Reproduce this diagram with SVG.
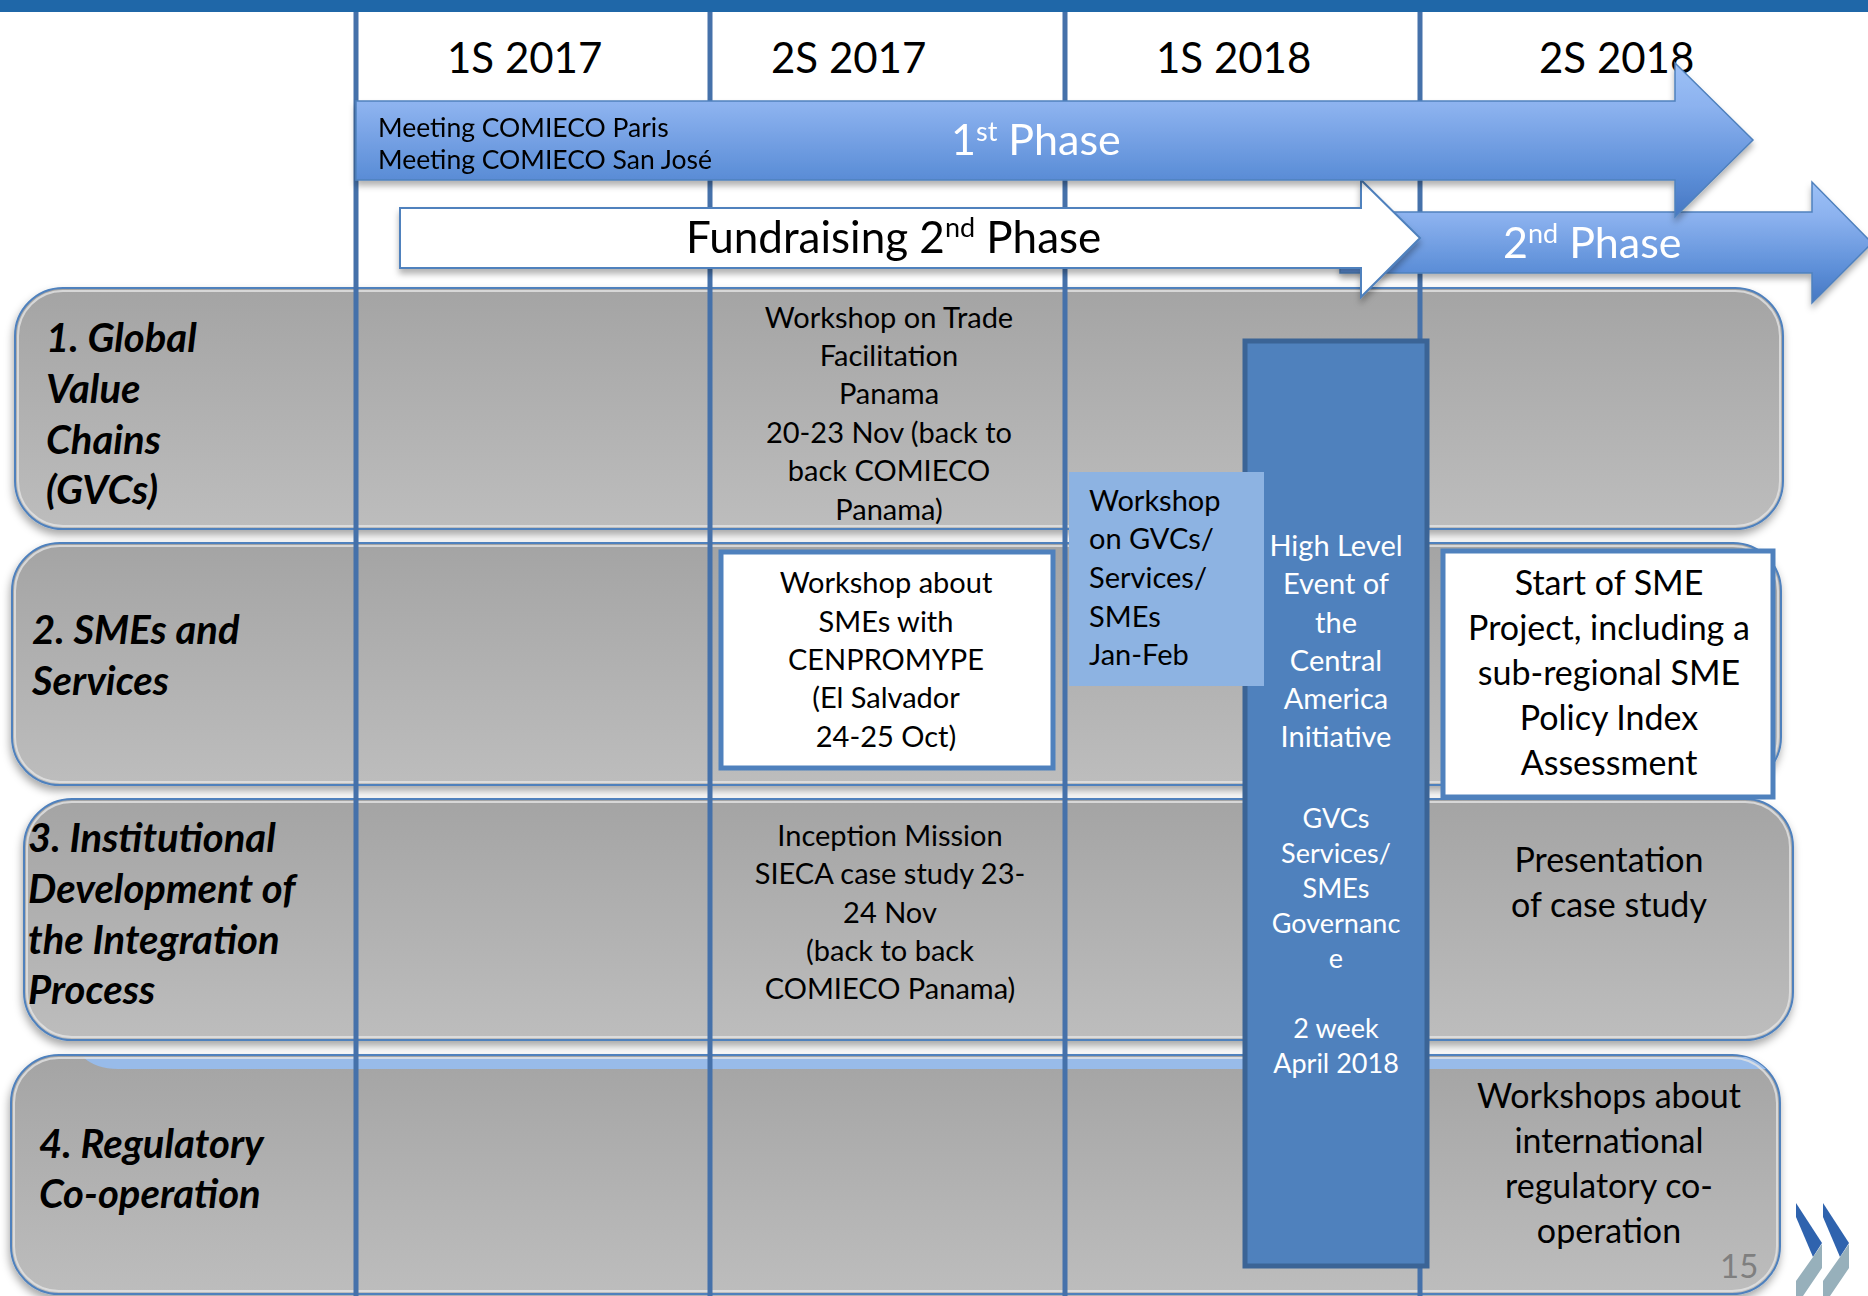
<svg xmlns="http://www.w3.org/2000/svg" width="1868" height="1296" viewBox="0 0 1868 1296">
<defs>
  <linearGradient id="rowFill" x1="0" y1="0" x2="0" y2="1">
    <stop offset="0" stop-color="#a4a4a4"/>
    <stop offset="1" stop-color="#bdbdbd"/>
  </linearGradient>
  <linearGradient id="phaseFill" x1="0" y1="0" x2="0" y2="1">
    <stop offset="0" stop-color="#9dc1f6"/>
    <stop offset="0.28" stop-color="#8cb2ef"/>
    <stop offset="0.72" stop-color="#5d8fd8"/>
    <stop offset="1" stop-color="#4677c2"/>
  </linearGradient>
  <filter id="shadow" x="-5%" y="-10%" width="110%" height="130%">
    <feDropShadow dx="-1" dy="5" stdDeviation="4" flood-color="#000" flood-opacity="0.35"/>
  </filter>
  <filter id="shadowSm" x="-5%" y="-10%" width="110%" height="130%">
    <feDropShadow dx="0" dy="5" stdDeviation="3" flood-color="#000" flood-opacity="0.3"/>
  </filter>
  <clipPath id="row4clip">
    <rect x="11" y="1055" width="1769" height="239" rx="48"/>
  </clipPath>
</defs>
<style>
  text { font-family: Lato, "Open Sans", "Liberation Sans", sans-serif; }
  .hdr { font-size: 42px; fill: #000; }
  .fund { font-size: 44px; fill: #000; }
  .row { fill: url(#rowFill); stroke: #4f81bd; stroke-width: 2; }
  .glare { fill: none; stroke: #e4e4e4; stroke-width: 2; opacity: 0.8; }
  .vline { stroke: #4571aa; stroke-width: 5; }
  .lab { font-size: 40px; font-weight: bold; font-style: italic; fill: #000; }
  .cell { font-size: 29px; fill: #000; text-anchor: middle; }
  .cellL { font-size: 29px; fill: #000; }
  .big { font-size: 34px; fill: #000; text-anchor: middle; }
  .hl { font-size: 29px; fill: #fff; text-anchor: middle; }
  .hl2 { font-size: 27px; fill: #fff; text-anchor: middle; }
  .phase { font-size: 43px; fill: #fff; }
  .box { fill: #fff; stroke: #4f81bd; stroke-width: 5; }
</style>

<!-- top bar -->
<rect x="0" y="0" width="1868" height="12" fill="#1f67a8"/>

<!-- swimlane rows -->
<g id="row1" filter="url(#shadow)">
  <rect class="row" x="15" y="288" width="1768" height="241" rx="48"/>
</g>
<rect class="glare" x="18" y="291" width="1762" height="235" rx="45"/>
<g id="row2" filter="url(#shadow)">
  <rect class="row" x="12" y="543" width="1769" height="242" rx="48"/>
</g>
<rect class="glare" x="15" y="546" width="1763" height="236" rx="45"/>
<g id="row3" filter="url(#shadow)">
  <rect class="row" x="24" y="799" width="1769" height="241" rx="48"/>
</g>
<rect class="glare" x="27" y="802" width="1763" height="235" rx="45"/>
<g id="row4" filter="url(#shadow)">
  <rect class="row" x="11" y="1055" width="1769" height="239" rx="48"/>
</g>
<path d="M83,1057 Q96,1069 118,1069 L1790,1069 L1790,1057 Z" fill="#98bbe9" clip-path="url(#row4clip)"/>
<rect class="glare" x="14" y="1058" width="1763" height="233" rx="45"/>

<!-- column grid lines -->
<g id="grid">
  <line class="vline" x1="356" y1="12" x2="356" y2="1296"/>
  <line class="vline" x1="710" y1="12" x2="710" y2="1296"/>
  <line class="vline" x1="1065" y1="12" x2="1065" y2="1296"/>
  <line class="vline" x1="1420" y1="12" x2="1420" y2="1296"/>
</g>

<!-- headers -->
<g id="headers">
  <text class="hdr" x="447" y="73">1S 2017</text>
  <text class="hdr" x="771" y="73">2S 2017</text>
  <text class="hdr" x="1156" y="73">1S 2018</text>
  <text class="hdr" x="1539" y="73">2S 2018</text>
</g>

<!-- 2nd phase arrow -->
<g id="phase2" filter="url(#shadowSm)">
  <path d="M1340,212 L1812,212 L1812,182 L1872,243 L1812,303 L1812,273 L1340,273 Z" fill="url(#phaseFill)" stroke="#4f81bd" stroke-width="1.5"/>
  <text class="phase" x="1503" y="258">2<tspan font-size="27" dy="-15">nd</tspan><tspan dy="15"> Phase</tspan></text>
</g>

<!-- fundraising arrow -->
<g id="fundraising" filter="url(#shadowSm)">
  <path d="M400,208 L1361,208 L1361,180 L1420,238 L1361,297 L1361,268 L400,268 Z" fill="#fff" stroke="#4f81bd" stroke-width="2"/>
  <text class="fund" x="686" y="253">Fundraising 2<tspan font-size="27" dy="-16">nd</tspan><tspan dy="16"> Phase</tspan></text>
</g>

<!-- 1st phase arrow -->
<g id="phase1" filter="url(#shadowSm)">
  <path d="M356,101 L1675,101 L1675,63 L1753,140 L1675,217 L1675,180 L356,180 Z" fill="url(#phaseFill)" stroke="#4f81bd" stroke-width="1.5"/>
  <text x="378" y="137" font-size="26.5" fill="#000">Meeting COMIECO Paris</text>
  <text x="378" y="169" font-size="26.5" fill="#000">Meeting COMIECO San José</text>
  <text class="phase" x="951" y="155">1<tspan font-size="27" dy="-14">st</tspan><tspan dy="14"> Phase</tspan></text>
</g>

<!-- row labels -->
<g id="label1">
  <text class="lab" x="46" y="352">1. Global</text>
  <text class="lab" x="46" y="403">Value</text>
  <text class="lab" x="46" y="454">Chains</text>
  <text class="lab" x="46" y="504">(GVCs)</text>
</g>
<g id="label2">
  <text class="lab" x="32" y="644">2. SMEs and</text>
  <text class="lab" x="32" y="695">Services</text>
</g>
<g id="label3">
  <text class="lab" x="28" y="852">3. Institutional</text>
  <text class="lab" x="28" y="903">Development of</text>
  <text class="lab" x="28" y="954">the Integration</text>
  <text class="lab" x="28" y="1004">Process</text>
</g>
<g id="label4">
  <text class="lab" x="39" y="1158">4. Regulatory</text>
  <text class="lab" x="39" y="1208">Co-operation</text>
</g>

<!-- cells -->
<g id="trade-facilitation">
  <text class="cell" x="889" y="328">Workshop on Trade</text>
  <text class="cell" x="889" y="366">Facilitation</text>
  <text class="cell" x="889" y="404">Panama</text>
  <text class="cell" x="889" y="443">20-23 Nov (back to</text>
  <text class="cell" x="889" y="481">back COMIECO</text>
  <text class="cell" x="889" y="520">Panama)</text>
</g>

<g id="sme-workshop">
  <rect class="box" x="721" y="552" width="332" height="216"/>
  <text class="cell" x="886" y="593">Workshop about</text>
  <text class="cell" x="886" y="632">SMEs with</text>
  <text class="cell" x="886" y="670">CENPROMYPE</text>
  <text class="cell" x="886" y="708">(El Salvador</text>
  <text class="cell" x="886" y="747">24-25 Oct)</text>
</g>

<g id="inception">
  <text class="cell" x="890" y="846">Inception Mission</text>
  <text class="cell" x="890" y="884">SIECA case study 23-</text>
  <text class="cell" x="890" y="923">24 Nov</text>
  <text class="cell" x="890" y="961">(back to back</text>
  <text class="cell" x="890" y="999">COMIECO Panama)</text>
</g>

<g id="high-level">
  <rect x="1245" y="341" width="182" height="925" fill="#4f81bd" stroke="#3b6496" stroke-width="5"/>
  <text class="hl" x="1336" y="556">High Level</text>
  <text class="hl" x="1336" y="594">Event of</text>
  <text class="hl" x="1336" y="633">the</text>
  <text class="hl" x="1336" y="671">Central</text>
  <text class="hl" x="1336" y="709">America</text>
  <text class="hl" x="1336" y="747">Initiative</text>
  <text class="hl2" x="1336" y="828">GVCs</text>
  <text class="hl2" x="1336" y="863">Services/</text>
  <text class="hl2" x="1336" y="898">SMEs</text>
  <text class="hl2" x="1336" y="933">Governanc</text>
  <text class="hl2" x="1336" y="968">e</text>
  <text class="hl2" x="1336" y="1038">2 week</text>
  <text class="hl2" x="1336" y="1073">April 2018</text>
</g>

<g id="gvc-workshop">
  <rect x="1069" y="472" width="195" height="214" fill="#8db3e2"/>
  <text class="cellL" x="1089" y="511">Workshop</text>
  <text class="cellL" x="1089" y="549">on GVCs/</text>
  <text class="cellL" x="1089" y="588">Services/</text>
  <text class="cellL" x="1089" y="627">SMEs</text>
  <text class="cellL" x="1089" y="665">Jan-Feb</text>
</g>

<g id="sme-project">
  <rect class="box" x="1443" y="551" width="330" height="246"/>
  <text class="big" x="1609" y="595">Start of SME</text>
  <text class="big" x="1609" y="640">Project, including a</text>
  <text class="big" x="1609" y="685">sub-regional SME</text>
  <text class="big" x="1609" y="730">Policy Index</text>
  <text class="big" x="1609" y="775">Assessment</text>
</g>

<g id="case-study">
  <text class="big" x="1609" y="872">Presentation</text>
  <text class="big" x="1609" y="917">of case study</text>
</g>

<g id="regulatory-workshops">
  <text class="big" x="1609" y="1108">Workshops about</text>
  <text class="big" x="1609" y="1153">international</text>
  <text class="big" x="1609" y="1198">regulatory co-</text>
  <text class="big" x="1609" y="1243">operation</text>
</g>

<text x="1720" y="1278" font-size="33" fill="#7f7f7f">15</text>

<!-- logo chevrons -->
<g id="chevrons">
  <path d="M1796,1203 L1822,1243 L1813,1257 L1796,1217 Z" fill="#2f63ae"/>
  <path d="M1813,1257 L1822,1244 L1822,1268 L1803,1296 L1796,1296 L1796,1281 Z" fill="#97b0bb"/>
  <path d="M1823,1203 L1849,1243 L1840,1257 L1823,1217 Z" fill="#2f63ae"/>
  <path d="M1840,1257 L1849,1244 L1849,1268 L1830,1296 L1823,1296 L1823,1281 Z" fill="#97b0bb"/>
</g>
</svg>
